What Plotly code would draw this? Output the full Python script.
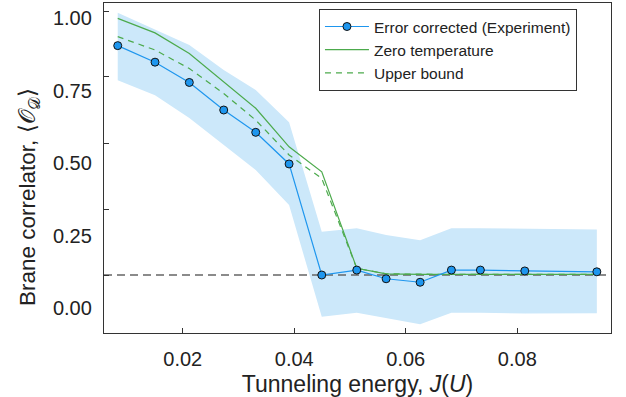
import plotly.graph_objects as go

# ---- data ----
J = [0.00834, 0.01503, 0.02118, 0.02735, 0.03309, 0.03907, 0.04493,
     0.05121, 0.05647, 0.06257, 0.06818, 0.07338, 0.08134, 0.09426]
experiment = [0.905, 0.848, 0.778, 0.683, 0.606, 0.497, 0.114,
              0.131, 0.101, 0.089, 0.131, 0.131, 0.128, 0.125]
zero_temp = [0.999, 0.949, 0.878, 0.780, 0.689, 0.556, 0.470,
             0.137, 0.118, 0.116, 0.116, 0.116, 0.116, 0.116]
upper_bound = [0.936, 0.890, 0.826, 0.740, 0.648, 0.528, 0.447,
               0.137, 0.118, 0.116, 0.116, 0.116, 0.116, 0.116]
band_upper = [1.018, 0.959, 0.907, 0.821, 0.752, 0.641, 0.263,
              0.275, 0.252, 0.234, 0.275, 0.275, 0.274, 0.271]
band_lower = [0.786, 0.734, 0.655, 0.562, 0.476, 0.355, -0.030,
              -0.016, -0.034, -0.056, -0.016, -0.016, -0.019, -0.018]
baseline = 0.114

x_range = [0.00588, 0.0968]
y_range = [-0.086, 1.052]
y_tick_labels_vals = [0.0, 0.25, 0.5, 0.75, 1.0]
y_tick_labels_text = ["0.00", "0.25", "0.50", "0.75", "1.00"]
y_tick_mark_vals = [0.114, 0.341, 0.569, 0.797, 1.024]
x_tick_vals = [0.02, 0.04, 0.06, 0.08]
x_tick_text = ["0.02", "0.04", "0.06", "0.08"]

BLUE = "#1e96ee"
BAND = "#cce8fa"
GREEN = "#4caa4c"
FONT = "Arial, Liberation Sans, sans-serif"

fig = go.Figure()

# uncertainty band
fig.add_trace(go.Scatter(x=J, y=band_upper, mode="lines", line=dict(width=0, color=BAND),
                         showlegend=False, hoverinfo="skip"))
fig.add_trace(go.Scatter(x=J, y=band_lower, mode="lines", line=dict(width=0, color=BAND),
                         fill="tonexty", fillcolor=BAND, showlegend=False, hoverinfo="skip"))

# baseline
fig.add_trace(go.Scatter(x=x_range, y=[baseline, baseline], mode="lines",
                         line=dict(color="#666666", width=1.6, dash="8px,5px"),
                         showlegend=False, hoverinfo="skip"))

fig.add_trace(go.Scatter(x=J, y=zero_temp, mode="lines", name="Zero temperature",
                         legendrank=2, line=dict(color=GREEN, width=1.2)))
fig.add_trace(go.Scatter(x=J, y=upper_bound, mode="lines", name="Upper bound",
                         legendrank=3, line=dict(color=GREEN, width=1.2, dash="6px,5px")))
fig.add_trace(go.Scatter(x=J, y=experiment, mode="lines+markers",
                         name="Error corrected (Experiment)", legendrank=1,
                         line=dict(color=BLUE, width=1.2),
                         marker=dict(size=8, color=BLUE, line=dict(color="#111111", width=1))))

# invisible trace for the tick-mark axis
fig.add_trace(go.Scatter(x=[x_range[0]], y=[y_range[0]], yaxis="y2", mode="markers",
                         marker=dict(opacity=0), showlegend=False, hoverinfo="skip"))

fig.update_layout(
    width=626, height=397,
    margin=dict(l=104, r=15, t=3, b=64),
    paper_bgcolor="white", plot_bgcolor="white",
    font=dict(family=FONT, size=19.5, color="#222222"),
    legend=dict(x=0.424, y=0.982, xanchor="left", yanchor="top",
                bordercolor="#333333", borderwidth=1, bgcolor="white",
                font=dict(size=15.5, color="#222222"), itemwidth=44,
                traceorder="normal"),
    xaxis=dict(range=x_range, tickvals=x_tick_vals, ticktext=x_tick_text,
               ticks="inside", ticklen=5, tickcolor="#333333",
               showline=True, linecolor="#333333", linewidth=1.3, mirror=True,
               showgrid=False, zeroline=False, ticklabelstandoff=8,
               tickfont=dict(size=20),
               title=dict(text="Tunneling energy, <i>J</i>(<i>U</i>)", standoff=6)),
    yaxis=dict(range=y_range, tickvals=y_tick_labels_vals, ticktext=y_tick_labels_text,
               ticks="", showline=True, linecolor="#333333", linewidth=1.3, mirror=True,
               showgrid=False, zeroline=False, ticklabelstandoff=7,
               tickfont=dict(size=20)),
    yaxis2=dict(range=y_range, overlaying="y", side="left", tickvals=y_tick_mark_vals,
                ticks="inside", ticklen=5, tickcolor="#333333", showticklabels=False,
                showline=False, showgrid=False, zeroline=False),
    annotations=[dict(text="Brane correlator, ⟨𝒪<sub>𝒟</sub>⟩", textangle=-90,
                      xref="paper", yref="paper", x=(29 - 104) / 507, y=(333 - 197) / 330,
                      xanchor="center", yanchor="middle", showarrow=False,
                      font=dict(size=22.5, family=FONT, color="#222222"))],
)

fig.write_html("out.html")
